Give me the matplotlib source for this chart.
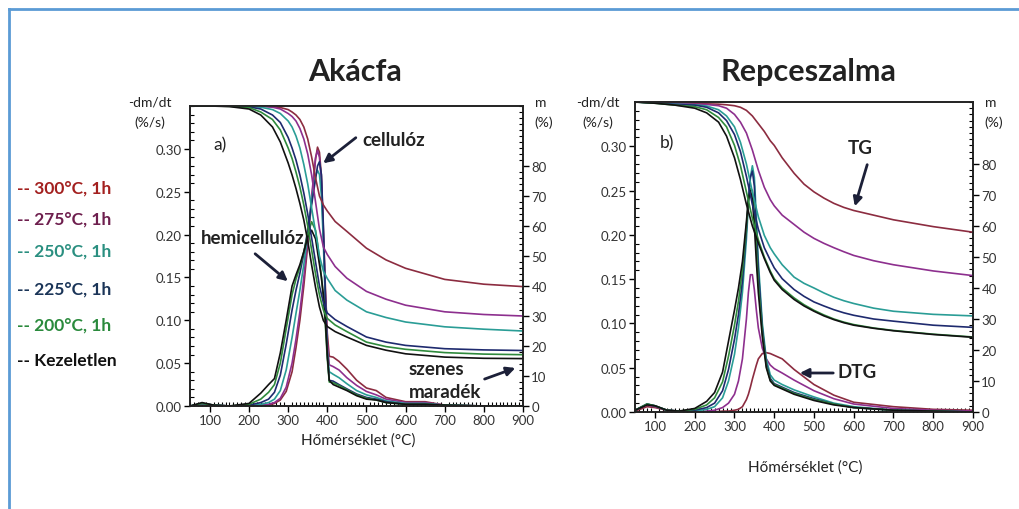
import matplotlib
matplotlib.use("Agg")
import matplotlib.pyplot as plt
from matplotlib.ticker import MultipleLocator, FormatStrFormatter
from matplotlib.lines import Line2D

plt.rcParams["font.family"] = ["Lato", "DejaVu Sans"]

# ================== DATA ==================
SERIES = ["300°C, 1h", "275°C, 1h", "250°C, 1h", "225°C, 1h", "200°C, 1h", "Kezeletlen"]

# ---- Akácfa: TG (m, %) ----
AK_TG_T = [50, 100, 150, 200, 230, 260, 280, 300, 310, 320, 330, 340, 350, 360, 370, 380,
           390, 400, 420, 450, 500, 550, 600, 700, 800, 900]
AK_TG_300 = [100, 100, 100, 100, 100, 99.8, 99.5, 98.8, 98, 97, 95.5, 93, 89, 83, 76, 70,
             67, 65, 61.5, 58.2, 52.6, 48.7, 45.9, 42.2, 40.6, 39.8]
AK_TG_275 = [100, 100, 100, 100, 99.9, 99.6, 99, 97.5, 96.5, 95, 92.5, 89, 84, 77, 68, 59,
             53, 50.5, 46.5, 42.6, 38.2, 35.6, 33.6, 31.4, 30.5, 30]
AK_TG_250 = [100, 100, 100, 99.9, 99.6, 98.8, 97.5, 95, 93, 90, 86, 80.5, 74, 66, 58, 50,
             45, 42.5, 38.5, 35.3, 31.4, 29.5, 28, 26.4, 25.6, 25]
AK_TG_225 = [100, 100, 100, 99.7, 99, 97, 94.5, 89.5, 86, 82, 77, 71, 64, 56, 48, 40,
             34.5, 31, 28.8, 26.5, 23, 21.3, 20.2, 19.1, 18.7, 18.5]
AK_TG_200 = [100, 100, 99.9, 99.5, 98, 95.5, 92, 86, 82.5, 78, 73, 67, 60, 52, 44, 37,
             32, 29.2, 27, 24.8, 21.3, 19.8, 18.9, 17.8, 17.3, 17.1]
AK_TG_0 = [100, 100, 99.8, 99, 97, 93, 88, 81, 77, 72.5, 67.5, 62, 55, 47, 39.5, 33,
           28.5, 26.5, 24.8, 23, 20.2, 18.6, 17.4, 16.3, 15.9, 15.8]

# ---- Akácfa: DTG (-dm/dt, %/s) ----
AK_DTG_T = [50, 80, 110, 150, 200, 230, 250, 265, 280, 295, 310, 320, 330, 340, 350, 360,
            370, 375, 380, 385, 390, 395, 400, 405, 415, 430, 450, 475, 500, 525, 550, 600,
            650, 700, 800, 900]
AK_DTG_300 = [0, 0.002, 0.001, 0, 0, 0, 0.001, 0.003, 0.007, 0.017, 0.040, 0.068, 0.100, 0.140,
              0.188, 0.240, 0.288, 0.302, 0.296, 0.268, 0.205, 0.140, 0.085, 0.058, 0.057,
              0.052, 0.043, 0.030, 0.021, 0.018, 0.010, 0.005, 0.005, 0.001, 0, 0]
AK_DTG_275 = [0, 0.002, 0.001, 0, 0, 0.001, 0.002, 0.004, 0.009, 0.022, 0.050, 0.078, 0.110,
              0.150, 0.195, 0.245, 0.290, 0.298, 0.290, 0.262, 0.200, 0.130, 0.075, 0.048,
              0.046, 0.042, 0.033, 0.024, 0.017, 0.013, 0.008, 0.004, 0.004, 0.001, 0, 0]
AK_DTG_250 = [0, 0.003, 0.001, 0, 0, 0.002, 0.004, 0.008, 0.018, 0.042, 0.080, 0.108, 0.135,
              0.165, 0.200, 0.240, 0.268, 0.275, 0.270, 0.245, 0.190, 0.120, 0.065, 0.040,
              0.037, 0.033, 0.026, 0.018, 0.013, 0.010, 0.006, 0.003, 0.003, 0.001, 0, 0]
AK_DTG_225 = [0, 0.003, 0.001, 0, 0.001, 0.004, 0.008, 0.016, 0.036, 0.072, 0.112, 0.135,
              0.155, 0.178, 0.205, 0.235, 0.265, 0.280, 0.285, 0.270, 0.210, 0.130, 0.060,
              0.030, 0.029, 0.025, 0.020, 0.014, 0.010, 0.008, 0.005, 0.002, 0.002, 0.001, 0, 0]
AK_DTG_200 = [0, 0.003, 0.001, 0, 0.002, 0.008, 0.016, 0.025, 0.050, 0.090, 0.130, 0.148,
              0.162, 0.180, 0.200, 0.215, 0.205, 0.190, 0.170, 0.150, 0.125, 0.095, 0.055,
              0.028, 0.027, 0.024, 0.019, 0.013, 0.009, 0.007, 0.004, 0.002, 0.002, 0.001, 0, 0]
AK_DTG_0 = [0, 0.004, 0.001, 0, 0.003, 0.015, 0.025, 0.032, 0.062, 0.100, 0.140, 0.153,
            0.165, 0.180, 0.197, 0.205, 0.195, 0.180, 0.165, 0.150, 0.130, 0.100, 0.060,
            0.030, 0.025, 0.022, 0.018, 0.012, 0.008, 0.007, 0.004, 0.002, 0.002, 0.001, 0, 0]

# ---- Repceszalma: TG (m, %) ----
RE_TG_T = [50, 100, 150, 200, 230, 260, 280, 300, 315, 330, 345, 360, 375, 390, 400, 420,
           450, 475, 500, 525, 550, 575, 600, 650, 700, 800, 900]
RE_TG_300 = [100, 99.8, 99.6, 99.5, 99.4, 99.3, 99.1, 98.8, 98.3, 97.3, 95.5, 93, 90.5, 87.5,
             86, 82, 77, 73.5, 71, 69, 67.3, 66, 65, 63.5, 62, 59.8, 58]
RE_TG_275 = [100, 99.8, 99.5, 99.3, 99.2, 98.8, 98, 96, 93.5, 90, 84.5, 78, 72.5, 68.5, 66.5,
             63.5, 60.5, 58, 56, 54.4, 53, 51.7, 50.5, 48.8, 47.5, 45.5, 44]
RE_TG_250 = [100, 99.7, 99.3, 99.1, 98.7, 97.5, 95.5, 92, 87, 80, 71, 63, 57, 53, 51, 47.5,
             43.5, 41.5, 40, 38.4, 37, 35.9, 35, 33.5, 32.5, 31.5, 31]
RE_TG_225 = [100, 99.7, 99.2, 99, 98.3, 96.5, 94, 89.5, 84, 76, 67, 59, 53, 49, 46.5, 43,
             39.5, 37.3, 35.5, 34.2, 33, 32, 31.2, 30, 29.3, 28, 27.3]
RE_TG_200 = [100, 99.6, 99, 98.5, 97.5, 95, 92, 86, 79.5, 71, 62.5, 55.5, 50, 45.5, 43, 40,
             36.8, 34.6, 32.8, 31.3, 30, 29, 28.2, 27.1, 26.3, 25.1, 24.2]
RE_TG_0 = [100, 99.6, 99, 98, 96.5, 93.5, 89, 82, 75, 67, 60, 54.5, 49.5, 45, 42.5, 39.5,
           36.3, 34.2, 32.5, 31, 29.8, 28.8, 28, 27, 26.2, 25, 24.1]

# ---- Repceszalma: DTG (-dm/dt, %/s) ----
RE_DTG_T = [50, 80, 100, 130, 160, 200, 230, 250, 270, 285, 300, 310, 320, 330, 335, 340,
            345, 350, 355, 360, 370, 380, 390, 400, 420, 450, 500, 550, 600, 700, 800, 900]
RE_DTG_300 = [0.001, 0.006, 0.005, 0.002, 0.001, 0, 0, 0, 0.001, 0.001, 0.002, 0.003, 0.006,
              0.014, 0.020, 0.028, 0.037, 0.045, 0.053, 0.060, 0.066, 0.067, 0.066, 0.064,
              0.060, 0.048, 0.031, 0.019, 0.011, 0.006, 0.003, 0.002]
RE_DTG_275 = [0.002, 0.008, 0.006, 0.002, 0.001, 0, 0.001, 0.002, 0.005, 0.010, 0.020, 0.035,
              0.060, 0.105, 0.135, 0.155, 0.155, 0.138, 0.115, 0.095, 0.072, 0.060, 0.053,
              0.049, 0.044, 0.036, 0.024, 0.015, 0.009, 0.004, 0.002, 0.001]
RE_DTG_250 = [0.002, 0.009, 0.007, 0.002, 0.001, 0.001, 0.003, 0.006, 0.016, 0.035, 0.065,
              0.095, 0.135, 0.195, 0.235, 0.265, 0.278, 0.265, 0.220, 0.170, 0.100, 0.060,
              0.042, 0.036, 0.031, 0.025, 0.017, 0.010, 0.006, 0.002, 0.001, 0]
RE_DTG_225 = [0.002, 0.009, 0.007, 0.002, 0.001, 0.002, 0.005, 0.010, 0.024, 0.048, 0.082,
              0.110, 0.148, 0.205, 0.240, 0.265, 0.272, 0.255, 0.205, 0.160, 0.095, 0.055,
              0.038, 0.032, 0.028, 0.022, 0.015, 0.009, 0.005, 0.002, 0.001, 0]
RE_DTG_200 = [0.002, 0.009, 0.007, 0.002, 0.001, 0.003, 0.008, 0.016, 0.034, 0.063, 0.098,
              0.125, 0.160, 0.210, 0.238, 0.252, 0.250, 0.225, 0.185, 0.145, 0.090, 0.052,
              0.036, 0.031, 0.027, 0.021, 0.014, 0.009, 0.005, 0.002, 0.001, 0]
RE_DTG_0 = [0.002, 0.008, 0.007, 0.002, 0.001, 0.004, 0.012, 0.022, 0.045, 0.080, 0.115,
            0.140, 0.170, 0.215, 0.240, 0.250, 0.240, 0.210, 0.170, 0.135, 0.085, 0.050,
            0.035, 0.030, 0.026, 0.020, 0.013, 0.008, 0.005, 0.002, 0.001, 0]

AK_TG = [AK_TG_300, AK_TG_275, AK_TG_250, AK_TG_225, AK_TG_200, AK_TG_0]
AK_DTG = [AK_DTG_300, AK_DTG_275, AK_DTG_250, AK_DTG_225, AK_DTG_200, AK_DTG_0]
RE_TG = [RE_TG_300, RE_TG_275, RE_TG_250, RE_TG_225, RE_TG_200, RE_TG_0]
RE_DTG = [RE_DTG_300, RE_DTG_275, RE_DTG_250, RE_DTG_225, RE_DTG_200, RE_DTG_0]

X_TICKS = [100, 200, 300, 400, 500, 600, 700, 800, 900]
DTG_TICKS = [0.00, 0.05, 0.10, 0.15, 0.20, 0.25, 0.30]
M_TICKS = [0, 10, 20, 30, 40, 50, 60, 70, 80]

# ================== STYLE ==================
LINE_COLORS = ["#8c2c40", "#8d2f8e", "#2a9d96", "#1e2a6e", "#2f8a3c", "#111111"]
TEXT_COLORS = ["#a3201f", "#6e1f4e", "#2a8f80", "#1b3558", "#2a8a3c", "#111111"]
ARROW_COLOR = "#1c2038"
W, H = 1019, 510

fig = plt.figure(figsize=(W / 100, H / 100), dpi=100)
fig.patch.set_facecolor("white")


def fx(x):
    return x / W


def fy(y):
    return 1 - y / H


def arrow(x0, y0, x1, y1):
    fig.add_artist(matplotlib.patches.FancyArrowPatch(
        (fx(x0), fy(y0)), (fx(x1), fy(y1)), transform=fig.transFigure,
        arrowstyle="-|>", mutation_scale=13, lw=2.0, color=ARROW_COLOR))


def label(x, y, s, size=13.5, bold=True):
    fig.text(fx(x), fy(y), s, ha="center", va="center", fontsize=size,
             fontweight="bold" if bold else "normal", color="#222222")


def draw_panel(px_left, px_right, px_top, px_bottom, t_tg, tg, t_dtg, dtg):
    ax = fig.add_axes([fx(px_left), fy(px_bottom), (px_right - px_left) / W,
                       (px_bottom - px_top) / H])
    ax2 = ax.twinx()
    for vals, c in zip(tg, LINE_COLORS):
        ax2.plot(t_tg, vals, color=c, lw=1.2)
    for vals, c in zip(dtg, LINE_COLORS):
        ax.plot(t_dtg, vals, color=c, lw=1.2)

    ax.set_xlim(50, 900)
    ax.set_ylim(0, 0.35)
    ax2.set_ylim(0, 100)
    ax.set_xticks(X_TICKS)
    ax.set_yticks(DTG_TICKS)
    ax.yaxis.set_major_formatter(FormatStrFormatter("%.2f"))
    ax2.set_yticks(M_TICKS)
    ax.xaxis.set_minor_locator(MultipleLocator(10))
    ax.yaxis.set_minor_locator(MultipleLocator(0.01))
    ax2.yaxis.set_minor_locator(MultipleLocator(2))

    for a in (ax, ax2):
        a.tick_params(which="major", direction="out", length=4, width=1.0,
                      labelsize=9.5, labelcolor="#333333", pad=2)
        a.tick_params(which="minor", direction="in", length=3, width=0.8)
        for s in a.spines.values():
            s.set_linewidth(1.2)
            s.set_color("#222222")
    return ax


draw_panel(190.3, 523, 107, 407, AK_TG_T, AK_TG, AK_DTG_T, AK_DTG)
draw_panel(635.1, 973, 103, 413, RE_TG_T, RE_TG, RE_DTG_T, RE_DTG)

# ================== TEXTS ==================
label(355, 72, "Akácfa", size=22)
label(808, 72, "Repceszalma", size=22)

for xl, xr, yb in [(150, 535, 103), (598, 985, 103)]:
    fig.text(fx(xl), fy(yb), "-dm/dt", ha="center", va="center", fontsize=10, color="#222")
    fig.text(fx(xl), fy(yb + 20), "(%/s)", ha="center", va="center", fontsize=10, color="#222")
    fig.text(fx(xr), fy(yb), "m", ha="left", va="center", fontsize=10, color="#222")
    fig.text(fx(xr - 1), fy(yb + 20), "(%)", ha="left", va="center", fontsize=10, color="#222")

label(358, 441, "Hőmérséklet (°C)", size=11, bold=False)
label(805, 468, "Hőmérséklet (°C)", size=11, bold=False)

label(220, 145, "a)", size=12.5, bold=False)
label(667, 143, "b)", size=12.5, bold=False)

label(394, 141, "cellulóz")
arrow(358, 137, 321, 166)
label(253, 238, "hemicellulóz")
arrow(253, 253, 290, 284)
label(436, 370, "szenes")
label(445, 393, "maradék")
arrow(482, 381, 518, 368)

label(860, 148, "TG")
arrow(868, 163, 854, 210)
label(857, 373, "DTG")
arrow(836, 374, 797, 374)

# ---- legend as coloured text ----
legend_y = [189, 220, 252, 290, 326, 361]
for lab, c, y in zip(SERIES, TEXT_COLORS, legend_y):
    fig.text(fx(17), fy(y), "-- " + lab, ha="left", va="center", fontsize=12.5,
             fontweight="bold", color=c)

# ---- light blue frame (left and top) ----
fig.add_artist(Line2D([fx(9), fx(9)], [fy(10), 0], transform=fig.transFigure,
                      color="#5b9bd5", lw=2))
fig.add_artist(Line2D([fx(9), 1], [fy(10), fy(10)], transform=fig.transFigure,
                      color="#5b9bd5", lw=2))

plt.savefig("out.png", dpi=100, facecolor="white")
plt.close()
